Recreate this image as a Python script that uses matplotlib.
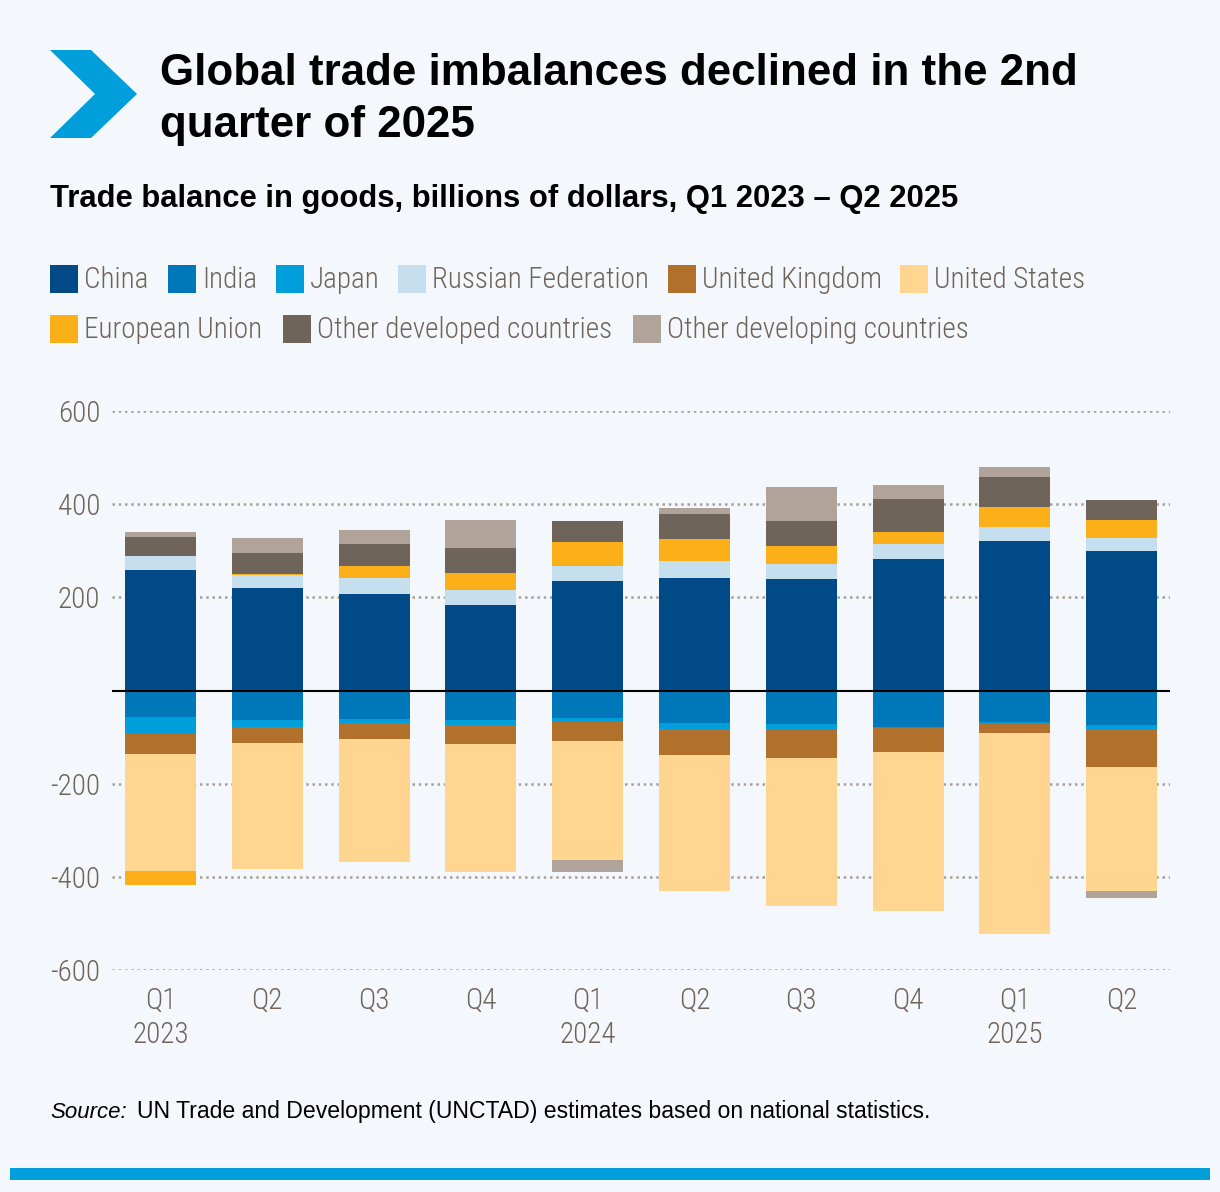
import matplotlib
matplotlib.use('Agg')
import matplotlib.pyplot as plt
from matplotlib import font_manager
from matplotlib.patches import Polygon, Rectangle
import numpy as np

W, H = 1220, 1192

quarters = ['Q1\n2023', 'Q2', 'Q3', 'Q4', 'Q1\n2024', 'Q2', 'Q3', 'Q4', 'Q1\n2025', 'Q2']

# billions of dollars
china = [259, 221, 208, 184, 234, 242, 240, 283, 320, 300]
india = [-57, -63, -61, -63, -59, -70, -72, -78, -67, -74]
japan = [-36, -15, -9, -11, -8, -13, -13, -2, -5, -9]
russia = [30, 26, 34, 32, 34, 36, 32, 32, 30, 28]
uk = [-44, -34, -34, -41, -41, -56, -60, -52, -19, -82]
us = [-250, -271, -264, -275, -256, -292, -318, -342, -432, -265]
eu = [-30, 4, 26, 36, 50, 47, 39, 26, 43, 37]
other_dev = [41, 45, 47, 54, 45, 54, 52, 71, 65, 43]
other_devg = [11, 32, 30, 60, -26, 13, 73, 30, 21, -15]

names = ['China', 'India', 'Japan', 'Russian Federation', 'United Kingdom',
         'United States', 'European Union', 'Other developed countries',
         'Other developing countries']
series = [china, india, japan, russia, uk, us, eu, other_dev, other_devg]
colors = ['#004a87', '#0077b9', '#009edb', '#c5dfef', '#b1702c',
          '#ffd58f', '#fbb01a', '#6f6459', '#afa39a']

bg = '#f4f8fc'
grey = '#6f645a'

avail = {f.name for f in font_manager.fontManager.ttflist}
narrow = None
for n in ['Roboto Condensed', 'Liberation Sans Narrow', 'Open Sans Condensed']:
    if n in avail:
        narrow = n
        break
if narrow is None:
    narrow = 'Roboto'
sans = 'Liberation Sans'


def px(x, y):
    return x / W, 1 - y / H


fig = plt.figure(figsize=(W / 100, H / 100), dpi=100, facecolor=bg)
renderer = fig.canvas.get_renderer()


def fit(txt, width):
    # shrink/grow the font so the text spans the same width as in the original
    w = txt.get_window_extent(renderer).width
    txt.set_fontsize(txt.get_fontsize() * width / w)


# chevron + title
chev = [(50, 50), (91, 50), (137, 94), (91, 138), (50, 138), (95, 94)]
fig.patches.append(Polygon([px(*p) for p in chev], closed=True,
                           transform=fig.transFigure, color='#009edb', lw=0))
t1 = fig.text(*px(160, 85), 'Global trade imbalances declined in the 2nd',
              fontsize=31, fontweight='bold', family=sans, va='baseline')
fit(t1, 915)
fig.text(*px(160, 137), 'quarter of 2025',
         fontsize=t1.get_fontsize(), fontweight='bold', family=sans, va='baseline')
sub = fig.text(*px(50, 207), 'Trade balance in goods, billions of dollars, Q1 2023 \u2013 Q2 2025',
               fontsize=20, fontweight='bold', family=sans, va='baseline')
fit(sub, 908)

# legend, laid out by hand as in the original
leg_pos = [(50, 279), (168, 279), (276, 279), (398, 279), (668, 279), (900, 279),
           (50, 329), (283, 329), (633, 329)]
for (x, y), name, c in zip(leg_pos, names, colors):
    x0, y0 = px(x, y + 14)
    fig.patches.append(Rectangle((x0, y0), 28 / W, 28 / H, transform=fig.transFigure,
                                 color=c, lw=0))
    fig.text(*px(x + 34, y + 1), name, fontsize=21, family=narrow, fontweight='light',
             color=grey, va='center')

ax = fig.add_axes([112 / W, 1 - 970 / H, (1170 - 112) / W, (970 - 411) / H])
ax.set_facecolor(bg)
xs = np.arange(len(quarters))
pos_base = np.zeros(len(quarters))
neg_base = np.zeros(len(quarters))
for vals, c in zip(series, colors):
    v = np.array(vals, dtype=float)
    p = np.where(v > 0, v, 0)
    n = np.where(v < 0, v, 0)
    ax.bar(xs, p, 0.665, bottom=pos_base, color=c, lw=0, zorder=2)
    ax.bar(xs, n, 0.665, bottom=neg_base, color=c, lw=0, zorder=2)
    pos_base += p
    neg_base += n

ax.set_xlim(-0.454, 9.452)
ax.set_ylim(-600, 600)
ax.set_yticks([-600, -400, -200, 200, 400, 600])
ax.set_yticklabels(['-600', '-400', '-200', '200', '400', '600'])
ax.set_xticks(xs)
ax.set_xticklabels(quarters)
ax.axhline(0, color='black', lw=1.5, zorder=3)
ax.grid(axis='y', color='#a8a098', lw=1.8, linestyle=(0, (1, 1.5)), zorder=1)
ax.tick_params(length=0, labelsize=21, labelcolor=grey)
ax.tick_params(axis='y', pad=8.5)
ax.tick_params(axis='x', pad=12)
for lab in ax.get_xticklabels() + ax.get_yticklabels():
    lab.set_family(narrow)
    lab.set_fontweight('light')
for lab in ax.get_xticklabels():
    lab.set_linespacing(1.3)
    lab.set_verticalalignment('top')
for s in ax.spines.values():
    s.set_visible(False)

# source line
fig.text(*px(50, 1118), 'Source:', fontsize=16, style='italic', family=sans, va='baseline')
src = fig.text(*px(137, 1118), 'UN Trade and Development (UNCTAD) estimates based on national statistics.',
               fontsize=16, family=sans, va='baseline')
fit(src, 796)

fig.patches.append(Rectangle(px(10, 1180), 1200 / W, 12 / H, transform=fig.transFigure,
                             color='#009edb', lw=0))

fig.savefig('out.png', dpi=100, facecolor=bg)
